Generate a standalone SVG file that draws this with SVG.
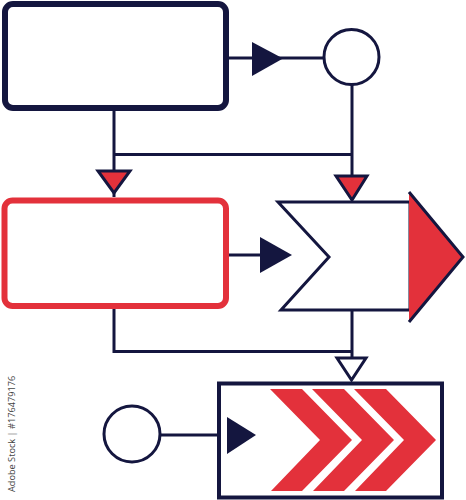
<svg xmlns="http://www.w3.org/2000/svg" width="466" height="500" viewBox="0 0 466 500">
<style>
.ln{fill:none;stroke:#14163f;stroke-width:3}
.nv{fill:#14163f}
.rd{fill:#e3313b}
.tri{fill:#e3313b;stroke:#14163f;stroke-width:3;stroke-linejoin:miter}
.otri{fill:#fff;stroke:#14163f;stroke-width:3}
.circ{fill:#fff;stroke:#14163f;stroke-width:3}
</style>
<rect width="466" height="500" fill="#fff"/>
<g id="connectors">
<path class="ln" d="M226 58 H323"/>
<polygon class="nv" points="252,42 283,58.5 252,76"/>
<path class="ln" d="M352 85 V176"/>
<path class="ln" d="M114 108 V197 M114 154.5 H352"/>
<polygon class="tri" points="98,171 130,171 114,193"/>
<polygon class="tri" points="336,176 367,176 352,200"/>
<path class="ln" d="M226 255 H262"/>
<polygon class="nv" points="260,237 292,255 260,273"/>
<path class="ln" d="M114 306 V351.5 H352 M352 310 V358"/>
<polygon class="otri" points="337,358 366,358 351.5,380"/>
<path class="ln" d="M160 435 H230"/>
</g>
<g id="top-box">
<rect x="5" y="4" width="221" height="104" rx="8" fill="#fff" stroke="#14163f" stroke-width="6"/>
</g>
<g id="top-circle">
<circle class="circ" cx="351.5" cy="57" r="27.5"/>
</g>
<g id="red-box">
<rect x="4.5" y="200.5" width="221.5" height="105.5" rx="8" fill="#fff" stroke="#e3313b" stroke-width="6"/>
</g>
<g id="arrow-shape">
<polygon points="278,202 410,202 410,310 281,310 329,257" fill="#fff" stroke="#14163f" stroke-width="3" stroke-linejoin="miter"/>
<polygon class="rd" points="409,192 463,257 409,322"/>
<polyline points="409,192 463,257 409,322" fill="none" stroke="#14163f" stroke-width="3" stroke-linejoin="miter"/>
</g>
<g id="bottom-circle">
<circle class="circ" cx="132" cy="434" r="28"/>
</g>
<g id="bottom-box">
<rect x="219" y="383.5" width="223" height="114" fill="#fff" stroke="#14163f" stroke-width="4"/>
<polygon class="nv" points="227,417 256,435 227,454"/>
<polygon class="rd" points="270,389 302,389 352,440 302,491 271,491 320,440"/>
<polygon class="rd" points="312,389 344,389 394,440 344,491 313,491 362,440"/>
<polygon class="rd" points="354,389 386,389 436,440 386,491 355,491 404,440"/>
</g>
<text transform="translate(15,492) rotate(-90)" font-family="'Open Sans', 'Liberation Sans', sans-serif" font-size="9.2" fill="#444">Adobe Stock | #176479176</text>
</svg>
